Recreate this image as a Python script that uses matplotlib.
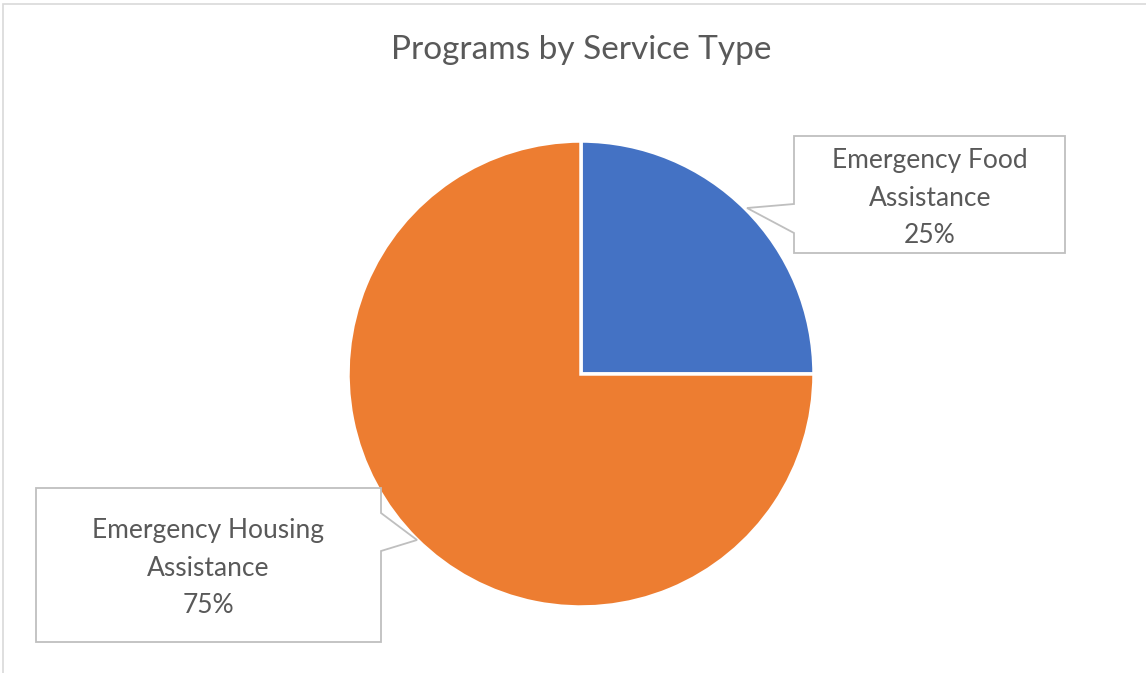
import matplotlib.pyplot as plt
from matplotlib.patches import Polygon, Rectangle

# data
categories = ['Emergency Food\nAssistance', 'Emergency Housing\nAssistance']
shares = [25, 75]
colors = ['#4472C4', '#ED7D31']
title = 'Programs by Service Type'

W, H = 1146, 673
fig = plt.figure(figsize=(W / 100, H / 100), dpi=100)
ax = fig.add_axes([0, 0, 1, 1])
ax.set_xlim(0, W)
ax.set_ylim(0, H)
ax.set_aspect('equal')
ax.axis('off')

def py(y):
    # pixel row (from top) -> data y
    return H - y

# chart frame
ax.add_patch(Rectangle((3, py(700)), 1200, 696, fill=False, ec='#D9D9D9', lw=1.2))

ax.pie(shares, colors=colors, startangle=90, counterclock=False,
       center=(581, py(374)), radius=233,
       wedgeprops=dict(edgecolor='white', linewidth=2.5))
ax.set_xlim(0, W)
ax.set_ylim(0, H)

ax.text(581, py(50), title, ha='center', va='center', fontsize=24,
        color='#595959', family='Lato')

# callout shapes (box + pointer)
food_box = [(794, 136), (1065, 136), (1065, 253), (794, 253), (794, 233),
            (747, 208), (794, 204)]
house_box = [(36, 488), (381, 488), (381, 513), (417, 540), (381, 551),
             (381, 642), (36, 642)]
for pts in (food_box, house_box):
    ax.add_patch(Polygon([(x, py(y)) for x, y in pts], closed=True,
                         fc='white', ec='#BFBFBF', lw=1.3, zorder=5))

labels = [f'{c}\n{s}%' for c, s in zip(categories, shares)]
ax.text(930, py(198), labels[0], ha='center', va='center', fontsize=19,
        color='#595959', family='Lato', linespacing=1.62, zorder=6)
ax.text(208, py(568), labels[1], ha='center', va='center', fontsize=19,
        color='#595959', family='Lato', linespacing=1.62, zorder=6)

fig.savefig('out.png', dpi=100)
